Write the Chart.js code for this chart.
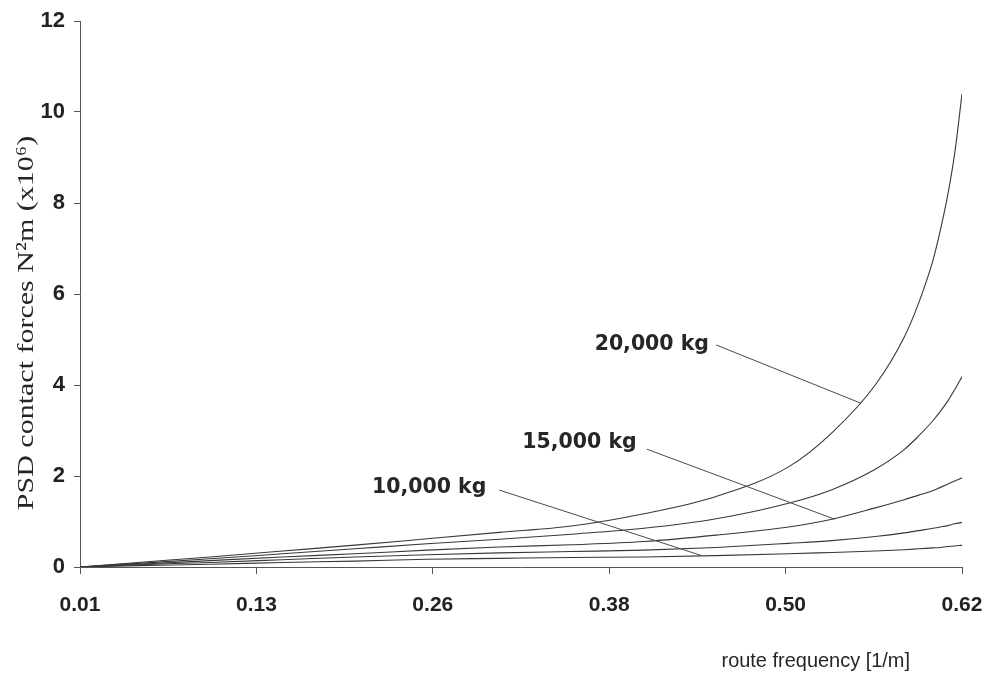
<!DOCTYPE html>
<html>
<head>
<meta charset="utf-8">
<script src="https://cdn.jsdelivr.net/npm/chart.js@4/dist/chart.umd.min.js"></script>
<style>
  html, body { margin: 0; padding: 0; background: #ffffff; }
  #wrap { width: 989px; height: 678px; position: relative; }
</style>
</head>
<body>
<div id="wrap"><canvas id="c" width="989" height="678"></canvas></div>
<script>
// Route frequency samples [1/m]
const freq = [0.01, 0.05, 0.10, 0.15, 0.20, 0.25, 0.30, 0.35, 0.40, 0.45, 0.50, 0.53, 0.56, 0.58, 0.59, 0.60, 0.605, 0.61, 0.615, 0.62];

// PSD of contact forces, N^2 m (x10^6), one array per vehicle mass
const psd20000 = [0, 0.10, 0.22, 0.35, 0.48, 0.62, 0.76, 0.90, 1.17, 1.55, 2.20, 2.95, 4.00, 5.05, 5.80, 6.75, 7.40, 8.15, 9.10, 10.40];
const psd17500 = [0, 0.08, 0.18, 0.29, 0.40, 0.51, 0.61, 0.72, 0.85, 1.06, 1.40, 1.70, 2.15, 2.58, 2.88, 3.22, 3.42, 3.64, 3.90, 4.18];
const psd15000 = [0, 0.06, 0.14, 0.22, 0.29, 0.37, 0.44, 0.49, 0.56, 0.70, 0.88, 1.05, 1.30, 1.48, 1.58, 1.68, 1.75, 1.82, 1.89, 1.96];
const psd12500 = [0, 0.05, 0.10, 0.16, 0.22, 0.27, 0.31, 0.34, 0.37, 0.43, 0.52, 0.58, 0.67, 0.75, 0.80, 0.85, 0.88, 0.91, 0.95, 0.98];
const psd10000 = [0, 0.03, 0.06, 0.10, 0.13, 0.17, 0.19, 0.21, 0.22, 0.25, 0.29, 0.32, 0.35, 0.38, 0.40, 0.42, 0.43, 0.45, 0.46, 0.48];

const seriesNames = ['20,000 kg', '17,500 kg', '15,000 kg', '12,500 kg', '10,000 kg'];
const seriesValues = [psd20000, psd17500, psd15000, psd12500, psd10000];

// Axis tick labels
const xTickLabels = ['0.01', '0.13', '0.26', '0.38', '0.50', '0.62'];
const yTickValues = [0, 2, 4, 6, 8, 10, 12];

// Callout labels with leader lines, placed in data units
const callouts = [
  { text: '20,000 kg', at: [0.445, 4.90], from: [0.450, 4.88], to: [0.550, 3.60] },
  { text: '15,000 kg', at: [0.395, 2.75], from: [0.402, 2.59], to: [0.532, 1.05] },
  { text: '10,000 kg', at: [0.291, 1.76], from: [0.300, 1.69], to: [0.440, 0.25] }
];

const tickFamily = '"Liberation Sans", Arial, sans-serif';

function drawText(ctx, text, px, py, font, sx, align, color, angle) {
  ctx.save();
  ctx.font = font;
  ctx.fillStyle = color;
  ctx.textBaseline = 'middle';
  ctx.textAlign = align;
  ctx.translate(px, py);
  if (angle) ctx.rotate(angle);
  ctx.scale(sx, 1);
  ctx.fillText(text, 0, 0);
  ctx.restore();
}

const textLayer = {
  id: 'textLayer',
  afterDraw(chart) {
    const { ctx, scales: { x, y } } = chart;
    ctx.save();
    ctx.strokeStyle = '#4a4a4a';
    ctx.lineWidth = 1;
    callouts.forEach(c => {
      ctx.beginPath();
      ctx.moveTo(x.getPixelForValue(c.from[0]), y.getPixelForValue(c.from[1]));
      ctx.lineTo(x.getPixelForValue(c.to[0]), y.getPixelForValue(c.to[1]));
      ctx.stroke();
      drawText(ctx, c.text, x.getPixelForValue(c.at[0]), y.getPixelForValue(c.at[1]),
        'bold 22px "DejaVu Sans"', 0.93, 'right', '#262626');
    });
    ctx.restore();

    // y-axis title (serif, rotated)
    drawText(ctx, 'PSD contact forces N\u00B2m (x10\u2076)', 27, 323,
      '24px "Liberation Serif", "Times New Roman", serif', 1.25, 'center', '#262626', -Math.PI / 2);

    // x-axis title, right side below the tick labels
    drawText(ctx, 'route frequency [1/m]', 910, 661,
      '21px "Liberation Sans", Arial, sans-serif', 0.95, 'right', '#262626');
  }
};

const xStep = (0.62 - 0.01) / (xTickLabels.length - 1);

new Chart(document.getElementById('c'), {
  type: 'line',
  data: {
    datasets: seriesValues.map((vals, k) => ({
      label: seriesNames[k],
      data: freq.map((f, i) => ({ x: f, y: vals[i] })),
      borderColor: '#383838',
      borderWidth: 1.1,
      pointRadius: 0,
      fill: false,
      cubicInterpolationMode: 'monotone'
    }))
  },
  options: {
    responsive: false,
    animation: false,
    layout: { padding: { left: 0, right: 27, top: 21, bottom: 0 } },
    plugins: { legend: { display: false }, tooltip: { enabled: false } },
    scales: {
      x: {
        type: 'linear',
        min: 0.01,
        max: 0.62,
        afterBuildTicks(s) { s.ticks = xTickLabels.map((_, i) => ({ value: 0.01 + i * xStep })); },
        afterFit(s) { s.height = 111; s.paddingRight = 0; s.paddingLeft = 0; },
        ticks: {
          autoSkip: false, maxRotation: 0, padding: 19, color: '#222222',
          font: { family: tickFamily, size: 21, weight: 'bold' },
          callback: (v, i) => xTickLabels[i]
        },
        grid: { drawOnChartArea: false, drawTicks: true, tickLength: 7, color: '#555555' },
        border: { display: true, color: '#555555', width: 1 }
      },
      y: {
        min: 0,
        max: 12,
        afterBuildTicks(s) { s.ticks = yTickValues.map(v => ({ value: v })); },
        afterFit(s) { s.width = 80; s.paddingTop = 0; s.paddingBottom = 0; },
        ticks: {
          padding: 9, color: '#222222',
          font: { family: tickFamily, size: 22, weight: 'bold' }
        },
        grid: { drawOnChartArea: false, drawTicks: true, tickLength: 6, color: '#555555' },
        border: { display: true, color: '#555555', width: 1 }
      }
    }
  },
  plugins: [textLayer]
});
</script>
</body>
</html>
